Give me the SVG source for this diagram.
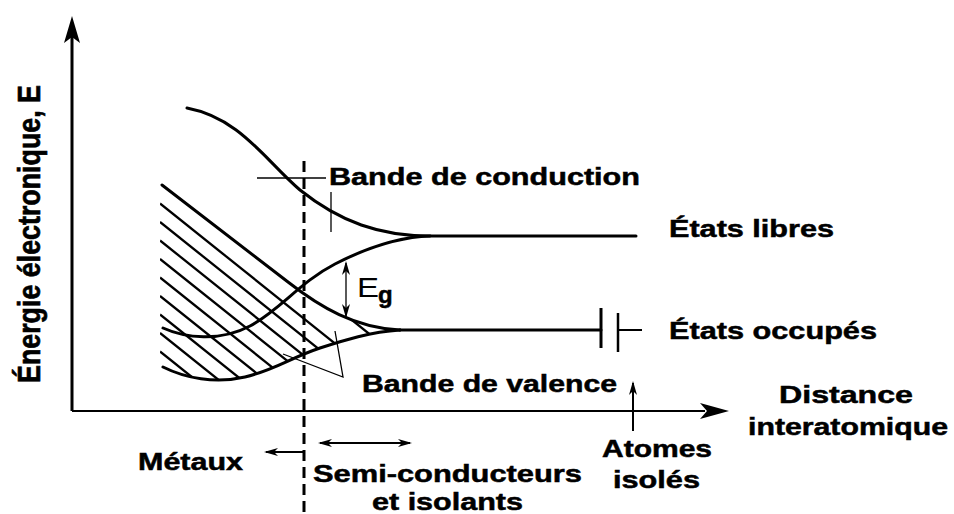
<svg xmlns="http://www.w3.org/2000/svg" width="954" height="514" viewBox="0 0 954 514">
<style>
.t{font-family:"Liberation Sans",Arial,sans-serif;font-weight:bold;font-size:24px;fill:#000;stroke:#000;stroke-width:0.5}
.c{fill:none;stroke:#000;stroke-width:3;stroke-linecap:round}
.h{fill:none;stroke:#000;stroke-width:2.3}
.p{fill:none;stroke:#000;stroke-width:1.3}
.a{fill:none;stroke:#000;stroke-width:2}
</style>
<defs>
<marker id="ah" markerUnits="userSpaceOnUse" markerWidth="14" markerHeight="10" refX="12" refY="5" viewBox="0 0 14 10" orient="auto-start-reverse">
<path d="M0,1 L14,5 L0,9 L4,5 Z" fill="#000"/>
</marker>
<clipPath id="vb">
<path d="M160,185 L288,282 C320,307 355,328 400,330 C370,332 345,340 320,348 C290,358 275,370 245,377 C215,384 185,378 160,367 Z"/>
</clipPath>
</defs>
<rect width="954" height="514" fill="#fff"/>

<g id="axes">
<line x1="72" y1="411" x2="72" y2="36" stroke="#000" stroke-width="3"/>
<polygon points="72,16 80,43 72,37 64,43" fill="#000"/>
<line x1="72" y1="411" x2="705" y2="411" stroke="#000" stroke-width="1.8"/>
<polygon points="729,411 700,403 707,411 700,419" fill="#000"/>
<text class="t" font-size="25" transform="translate(40,383) scale(1.28,1) rotate(-90)" textLength="298" lengthAdjust="spacingAndGlyphs">Énergie électronique, E</text>
<text class="t" x="779" y="403" textLength="134" lengthAdjust="spacingAndGlyphs">Distance</text>
<text class="t" x="748" y="435" textLength="200" lengthAdjust="spacingAndGlyphs">interatomique</text>
</g>

<g id="valence-band">
<g clip-path="url(#vb)">
<line class="h" x1="160" y1="166.5" x2="440" y2="390.5"/>
<line class="h" x1="160" y1="148" x2="440" y2="372"/>
<line class="h" x1="160" y1="129.5" x2="440" y2="353.5"/>
<line class="h" x1="160" y1="203.5" x2="440" y2="427.5"/>
<line class="h" x1="160" y1="222" x2="440" y2="446"/>
<line class="h" x1="160" y1="240.5" x2="440" y2="464.5"/>
<line class="h" x1="160" y1="259" x2="440" y2="483"/>
<line class="h" x1="160" y1="277.5" x2="440" y2="501.5"/>
<line class="h" x1="160" y1="296" x2="440" y2="520"/>
<line class="h" x1="160" y1="314.5" x2="440" y2="538.5"/>
<line class="h" x1="160" y1="333" x2="440" y2="557"/>
<line class="h" x1="160" y1="351.5" x2="440" y2="575.5"/>
</g>
<path class="c" d="M162,185 L288,282 C320,307 355,328 400,330"/>
<path class="c" d="M163,367 C185,378 215,384 245,377 C275,370 290,358 320,348 C345,340 370,332 400,330"/>
<path class="c" d="M400,330 H601"/>
<line x1="601" y1="308" x2="601" y2="348" stroke="#000" stroke-width="3"/>
<line x1="618" y1="313" x2="618" y2="352" stroke="#000" stroke-width="2.5"/>
<line x1="618" y1="330" x2="642" y2="330" stroke="#000" stroke-width="2"/>
<text class="t" x="669" y="339" textLength="208" lengthAdjust="spacingAndGlyphs">États occupés</text>
<path class="p" d="M283,354 L343,377 L335,331"/>
<text class="t" x="362" y="392" textLength="255" lengthAdjust="spacingAndGlyphs">Bande de valence</text>
</g>

<g id="conduction-band">
<path class="c" d="M187,108 C240,118 265,160 300,190 C340,222 380,236 430,236 H636"/>
<path class="c" d="M163,328 C185,338 220,342 250,326 C280,310 300,282 335,264 C370,246 400,237 430,236"/>
<line class="p" x1="257" y1="178" x2="326" y2="178"/>
<line class="p" x1="331" y1="192" x2="331" y2="232"/>
<text class="t" x="329" y="185" textLength="311" lengthAdjust="spacingAndGlyphs">Bande de conduction</text>
<text class="t" x="669" y="237" textLength="165" lengthAdjust="spacingAndGlyphs">États libres</text>
</g>

<g id="gap">
<line class="p" x1="346" y1="263" x2="346" y2="316" marker-start="url(#ah)" marker-end="url(#ah)"/>
<text x="357" y="297" font-family="Liberation Sans,Arial,sans-serif" font-size="27" textLength="22" lengthAdjust="spacingAndGlyphs">E</text>
<text x="378" y="303" class="t" font-size="20">g</text>
</g>

<g id="regions">
<line x1="304" y1="161" x2="304" y2="514" stroke="#000" stroke-width="3" stroke-dasharray="11 6"/>
<line class="a" x1="304" y1="452" x2="266" y2="452" marker-end="url(#ah)"/>
<text class="t" x="138" y="470" textLength="105" lengthAdjust="spacingAndGlyphs">Métaux</text>
<line class="a" x1="320" y1="443" x2="410" y2="443" marker-start="url(#ah)" marker-end="url(#ah)"/>
<text class="t" x="313" y="482" textLength="269" lengthAdjust="spacingAndGlyphs">Semi-conducteurs</text>
<text class="t" x="372" y="510" textLength="151" lengthAdjust="spacingAndGlyphs">et isolants</text>
<line class="a" x1="633" y1="431" x2="633" y2="383" marker-end="url(#ah)"/>
<text class="t" x="602" y="457" textLength="110" lengthAdjust="spacingAndGlyphs">Atomes</text>
<text class="t" x="613" y="488" textLength="87" lengthAdjust="spacingAndGlyphs">isolés</text>
</g>
</svg>
